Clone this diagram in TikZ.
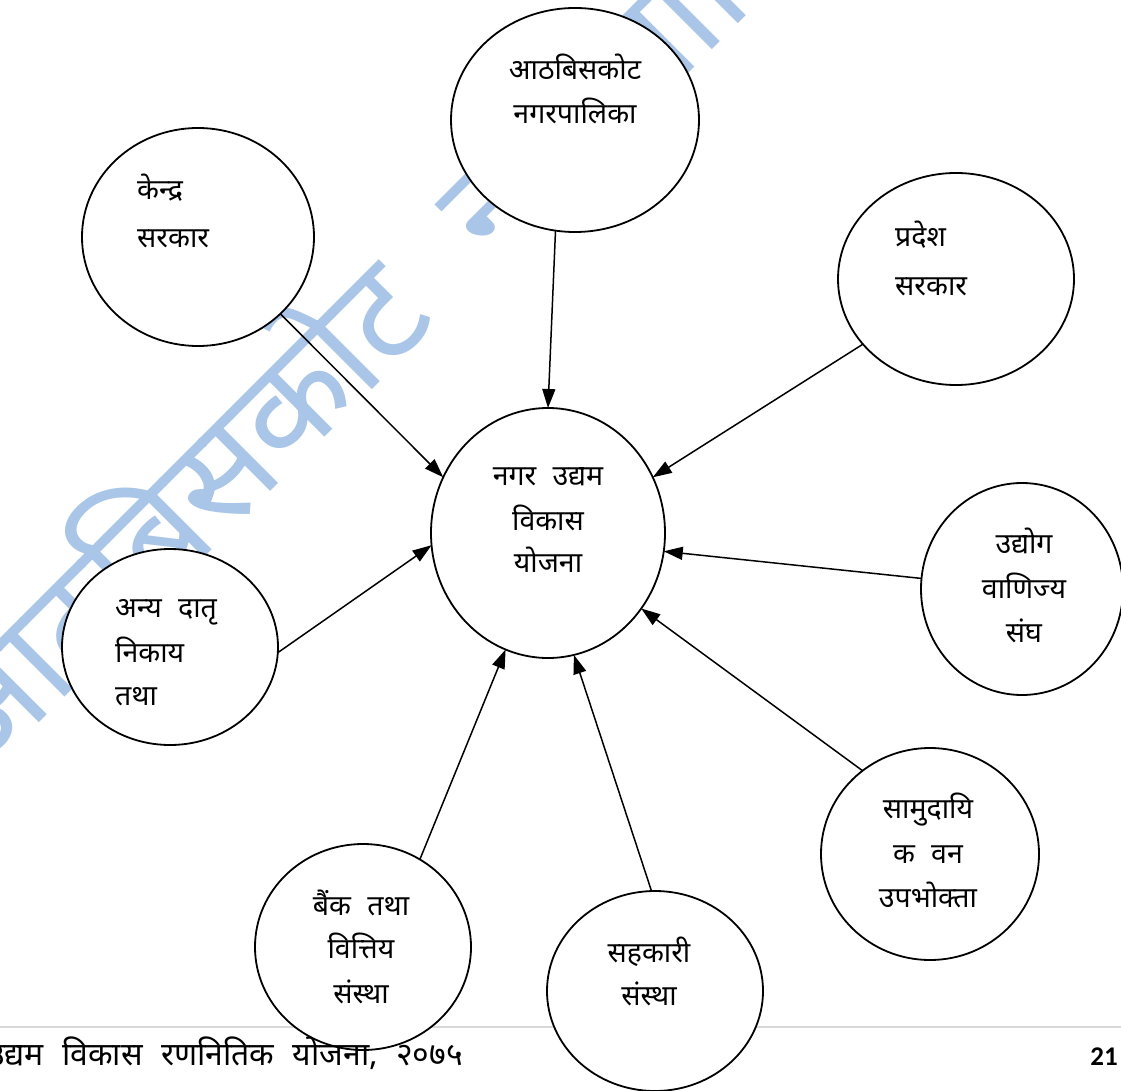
\documentclass[tikz,border=0pt]{standalone}
\usepackage{fontspec}
\newfontfamily\dev[Script=Devanagari]{Noto Sans}
\newfontfamily\devw[Script=Devanagari,WordSpace=2.2]{Noto Sans}
\newfontfamily\pgnumfont{Carlito}
\usetikzlibrary{shapes.geometric,arrows.meta}
\definecolor{wm}{RGB}{169,198,232}
\definecolor{rulegray}{RGB}{217,217,217}
\begin{document}
\begin{tikzpicture}[x=1pt,y=-1pt,
  bub/.style={ellipse,draw,line width=1.8pt,fill=white,inner sep=0pt,outer sep=0pt},
  lbl/.style={font=\devw\fontsize{28.5}{28.5}\selectfont,inner sep=0pt},
  arr/.style={line width=1.5pt,-{Triangle[length=19pt,width=13pt]}}]
\useasboundingbox (0,0) rectangle (1121,1091);
\clip (0,0) rectangle (1121,1091);
\fill[white] (0,0) rectangle (1121,1091);
% watermark
\node[rotate=45,anchor=base west,text=wm,font=\dev\fontsize{140}{140}\selectfont,inner sep=0pt] (wmk) at (-20,782) {आठबिसकोट नगरपालिका};
% footer rule
\draw[rulegray,line width=2pt] (0,1027) -- (1121,1027);
% bubbles
\node[bub,minimum width=248pt,minimum height=224pt] (A) at (575,120) {};
\node[bub,minimum width=232pt,minimum height=218pt] (K) at (198,237) {};
\node[bub,minimum width=236pt,minimum height=212pt] (P) at (956,279) {};
\node[bub,minimum width=234pt,minimum height=250pt] (C) at (548,533) {};
\node[bub,minimum width=202pt,minimum height=212pt] (U) at (1022,589) {};
\node[bub,minimum width=218pt,minimum height=212pt] (S) at (930,854) {};
\node[bub,minimum width=216pt,minimum height=200pt] (H) at (655,991) {};
\node[bub,minimum width=216pt,minimum height=206pt] (B) at (363,947) {};
\node[bub,minimum width=216pt,minimum height=196pt] (N) at (170,647) {};
% arrows
\draw[arr] (K.-43) -- (C.152);
\draw[arr] (A.-100) -- (C.90.5);
\draw[arr] (P.215) -- (C.28.5);
\draw[arr] (U.174) -- (C.-9.5);
\draw[arr] (S.129) -- (C.-39);
\draw[arr] (H.92) -- (C.-78);
\draw[arr] (B.57) -- (C.250);
\draw[arr] (N.-3) -- (C.186);
% labels
\node[lbl,anchor=base] (a1) at (575,80) {आठबिसकोट};
\node[lbl,anchor=base] (a2) at (575,124) {नगरपालिका};
\node[lbl,anchor=base west] (k1) at (137,200) {केन्द्र};
\node[lbl,anchor=base west] (k2) at (137,248) {सरकार};
\node[lbl,anchor=base west] (p1) at (895,247) {प्रदेश};
\node[lbl,anchor=base west] (p2) at (895,295) {सरकार};
\node[lbl,anchor=base] (c1) at (548,485) {नगर उद्यम};
\node[lbl,anchor=base] (c2) at (548,530) {विकास};
\node[lbl,anchor=base] (c3) at (548,572) {योजना};
\node[lbl,anchor=base] (u1) at (1024,553) {उद्योग};
\node[lbl,anchor=base] (u2) at (1024,598) {वाणिज्य};
\node[lbl,anchor=base] (u3) at (1024,642) {संघ};
\node[lbl,anchor=base] (s1) at (928,818) {सामुदायि};
\node[lbl,anchor=base] (s2) at (928,863) {क वन};
\node[lbl,anchor=base] (s3) at (928,907) {उपभोक्ता};
\node[lbl,anchor=base] (b1) at (361,915) {बैंक तथा};
\node[lbl,anchor=base] (b2) at (361,958) {वित्तिय};
\node[lbl,anchor=base] (b3) at (361,1003) {संस्था};
\node[lbl,anchor=base] (h1) at (649,962) {सहकारी};
\node[lbl,anchor=base] (h2) at (649,1005) {संस्था};
\node[lbl,anchor=base west] (n1) at (115,617) {अन्य दातृ};
\node[lbl,anchor=base west] (n2) at (115,662) {निकाय};
\node[lbl,anchor=base west] (n3) at (115,705) {तथा};
% footer text
\node[anchor=base east,font=\devw\fontsize{32}{32}\selectfont,inner sep=0pt] (foot) at (463,1065) {नगर उद्यम विकास रणनितिक योजना, २०७५};
\node[anchor=base east,font=\pgnumfont\bfseries\fontsize{27}{27}\selectfont,inner sep=0pt] (pg) at (1118,1065) {21};
\end{tikzpicture}
\end{document}
